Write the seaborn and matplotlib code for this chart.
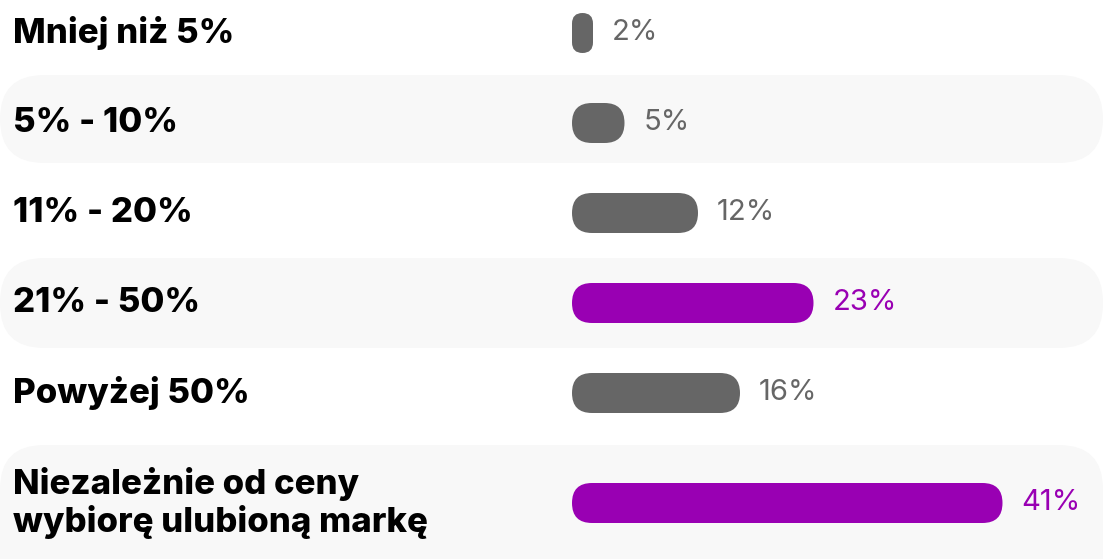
import matplotlib
matplotlib.use("Agg")
import matplotlib.pyplot as plt
from matplotlib.patches import FancyBboxPatch
from matplotlib.transforms import IdentityTransform
import seaborn as sns
import pandas as pd

# Survey answers and shares (%)
categories = ["Mniej niż 5%", "5% - 10%", "11% - 20%", "21% - 50%", "Powyżej 50%",
              "Niezależnie od ceny\nwybiorę ulubioną markę"]
values = [2, 5, 12, 23, 16, 41]
highlight = [False, False, False, True, False, True]
value_labels = [f"{v}%" for v in values]

GRAY = "#666666"
PURPLE = "#9900b3"
BAND = "#f8f8f8"

W, H, DPI = 1107, 559, 100
# vertical centre of each row, in pixels from the top
row_centres = [33, 123, 213, 303, 393, 503]
# rows with a shaded band: (top, bottom) in pixels from the top
bands = [(75, 163), (258, 348), (445, 600)]

sns.set_theme(style="white")
plt.rcParams["font.family"] = ["Inter", "DejaVu Sans"]

fig = plt.figure(figsize=(W / DPI, H / DPI), dpi=DPI)
ax = fig.add_axes([0, 0, 1, 1])
px_per_pct = 10.5
x0 = 572
ax.set_xlim(-x0 / px_per_pct, (W - x0) / px_per_pct)
ax.set_ylim(H, 0)
ax.set_axis_off()

df = pd.DataFrame({"answer": categories, "share": values, "y": row_centres,
                   "hl": ["Tak" if h else "Nie" for h in highlight]})

sns.barplot(data=df, x="share", y="y", hue="hl", orient="h", native_scale=True,
            palette={"Tak": PURPLE, "Nie": GRAY}, width=40 / 90, dodge=False,
            saturation=1, legend=False, ax=ax)

# background bands (display coordinates, y up)
for top, bot in bands:
    ax.add_patch(FancyBboxPatch((0, H - bot), W - 4, bot - top,
                                boxstyle="round,pad=0,rounding_size=44",
                                transform=IdentityTransform(), facecolor=BAND,
                                edgecolor="none", zorder=0))

# replace square bars with pill shapes
fig.canvas.draw()
for p in list(ax.patches):
    if isinstance(p, FancyBboxPatch):
        continue
    bb = p.get_window_extent()
    if bb.width <= 0:
        p.remove()
        continue
    fc = p.get_facecolor()
    p.remove()
    r = min(bb.width, bb.height) / 2
    ax.add_patch(FancyBboxPatch((bb.x0, bb.y0), bb.width, bb.height,
                                boxstyle=f"round,pad=0,rounding_size={r}",
                                transform=IdentityTransform(), facecolor=fc,
                                edgecolor="none", zorder=2))

for cat, v, yc, hl, lab in zip(categories, values, row_centres, highlight, value_labels):
    ax.text(-x0 / px_per_pct + 13 / px_per_pct, yc, cat, ha="left", va="center",
            fontsize=25, fontweight="heavy", color="#000000", linespacing=1.15)
    ax.text(v + 19 / px_per_pct, yc, lab, ha="left", va="center",
            fontsize=21, fontweight="normal", color=PURPLE if hl else GRAY)

fig.savefig("out.png", dpi=DPI, facecolor="white")
